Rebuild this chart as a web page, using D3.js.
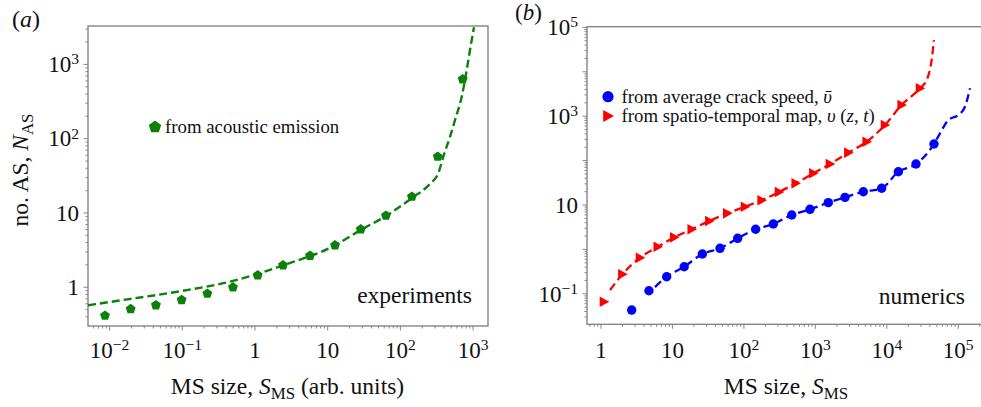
<!DOCTYPE html>
<html><head><meta charset="utf-8">
<script src="https://cdn.jsdelivr.net/npm/d3@7"></script>
<style>
body{margin:0;background:#fff}
svg{display:block}
text{font-family:"Liberation Serif","Times New Roman",serif;fill:#111}
</style>
</head><body>
<svg id="c" width="981" height="407" font-family="Liberation Serif, Times New Roman, serif"></svg>
<script>
// ---------- data : panel (a) experiments ----------
const expSize   = [0.00865,0.0195,0.0434,0.098,0.221,0.498,1.09,2.43,5.71,12.6,28.5,63.2,144,326,719];
const expNAS    = [0.415,0.51,0.573,0.675,0.82,1.0,1.45,1.98,2.66,3.67,6.03,9.2,16.6,57.3,632];
const expFitSize= [0.00505,0.0191,0.099,0.498,2.43,12.6,28.5,63.2,144,255,332,389,481,564,697,817,906,1029];
const expFitNAS = [0.573,0.696,0.892,1.216,1.97,3.67,5.9,9.1,15.9,24.6,34.2,57.3,106,178,367,841,1563,3170];
const aXTicks = [0.01,0.1,1,10,100,1000];
const aXLabels = ["10^−2","10^−1","1","10","10^2","10^3"];
const aYTicks = [1,10,100,1000];
const aYLabels = ["1","10","10^2","10^3"];

// ---------- data : panel (b) numerics ----------
const avgSize = [2.69,4.69,8.3,14.6,26.2,46.3,81.8,146,258,467,841,1517,2600,4690,8470,14500,25600,45700];
const avgNAS  = [0.0431,0.1175,0.243,0.408,0.787,1.06,1.78,2.84,3.74,5.96,8.0,11.3,14.9,19.9,23.8,56.2,83.8,237];
const avgFitSize = [5.7,8.3,14.6,26.2,46.3,81.8,146,258,467,841,1517,2600,4690,8470,14500,25600,45700,55500,72500,100000,124000,146000];
const avgFitNAS  = [0.142,0.243,0.408,0.787,1.06,1.78,2.84,3.74,5.96,8.0,11.3,14.9,19.9,23.8,56.2,83.8,237,412,820,1064,1637,4250];
const mapSize = [1.10,1.99,3.51,6.22,10.6,18.6,32.8,58.5,103.5,177,310,530,935,1600,2890,5230,9420,16100,29100];
const mapNAS  = [0.0664,0.275,0.65,1.15,1.87,2.84,4.37,6.5,9.16,12.8,19.6,30.8,51.8,83.8,151,267,634,1790,4250];
const mapFitSize = [1.34,1.99,3.51,6.22,10.6,18.6,32.8,58.5,103.5,177,310,530,935,1600,2890,5230,9420,16100,29100,36100,42400,45700];
const mapFitNAS  = [0.122,0.275,0.65,1.15,1.87,2.84,4.37,6.5,9.16,12.8,19.6,30.8,51.8,83.8,151,267,634,1790,4250,6530,18400,52000];
const bXTicks = [1,10,100,1000,10000,100000];
const bXLabels = ["1","10","10^2","10^3","10^4","10^5"];
const bYTicks = [0.1,10,1000,100000];
const bYLabels = ["10^−1","10","10^3","10^5"];

const GREEN = "#0b800b", BLUE = "#0000ff", RED = "#ff0000", AXIS = "#858585";
const svg = d3.select("#c");

function richLabel(sel, str){
  const p = str.split("^");
  sel.append("tspan").text(p[0]);
  if (p.length > 1) sel.append("tspan").attr("font-size","0.68em").attr("dy","-0.5em").text(p[1]);
}

function logAxes(x, y, xTicks, xLabels, yTicks, yLabels){
  const [x0,x1] = x.range(), [y0,y1] = y.range();
  const g = svg.append("g");
  g.append("rect").attr("x",x0).attr("y",y1).attr("width",x1-x0).attr("height",y0-y1)
    .attr("fill","none").attr("stroke",AXIS).attr("stroke-width",1.4);
  const minor = (sc) => {
    const d = sc.domain(), out = [];
    for (let e = Math.floor(Math.log10(d[0])); e <= Math.ceil(Math.log10(d[1])); e++)
      for (let k = 1; k <= 9; k++){ const v = k*Math.pow(10,e); if (v>=d[0] && v<=d[1]) out.push({v, major:k===1}); }
    return out;
  };
  minor(x).forEach(t => g.append("line").attr("x1",x(t.v)).attr("x2",x(t.v))
    .attr("y1",y0).attr("y2",y0+(t.major?4.5:2.5)).attr("stroke",AXIS).attr("stroke-width",1));
  minor(y).forEach(t => g.append("line").attr("y1",y(t.v)).attr("y2",y(t.v))
    .attr("x1",x0).attr("x2",x0-(t.major?4.5:2.5)).attr("stroke",AXIS).attr("stroke-width",1));
  xTicks.forEach((v,i)=>{ const t = g.append("text").attr("x",x(v)).attr("y",357.5)
    .attr("text-anchor","middle").attr("font-size",23); richLabel(t,xLabels[i]); });
  yTicks.forEach((v,i)=>{ const t = g.append("text").attr("x",x0-9).attr("y",y(v)+7.8)
    .attr("text-anchor","end").attr("font-size",23); richLabel(t,yLabels[i]); });
}

function pentagon(r){
  const pts = d3.range(5).map(i => { const a = -Math.PI/2 + i*2*Math.PI/5; return [r*Math.cos(a), r*Math.sin(a)]; });
  return "M" + pts.map(p=>p.join(",")).join("L") + "Z";
}
function triRight(s){ return `M${s},0L${-s*0.8},${-s}L${-s*0.8},${s}Z`; }

// ---------- panel (a) ----------
const xa = d3.scaleLog().domain([0.00505,1603]).range([88,488]);
const ya = d3.scaleLog().domain([0.301,3288]).range([326,26]);
logAxes(xa, ya, aXTicks, aXLabels, aYTicks, aYLabels);
svg.append("clipPath").attr("id","ca").append("rect").attr("x",88).attr("y",26).attr("width",400).attr("height",300);
const line = (xs,ys,x,y) => d3.line().curve(d3.curveMonotoneX)(xs.map((v,i)=>[x(v),y(ys[i])]));
svg.append("path").attr("d",line(expFitSize,expFitNAS,xa,ya)).attr("clip-path","url(#ca)")
  .attr("fill","none").attr("stroke",GREEN).attr("stroke-width",2.4).attr("stroke-dasharray","8,4");
svg.append("g").selectAll("path").data(expSize).join("path")
  .attr("transform",(d,i)=>`translate(${xa(d)},${ya(expNAS[i])})`).attr("d",pentagon(5.2)).attr("fill",GREEN);
svg.append("path").attr("transform","translate(155,127)").attr("d",pentagon(6.5)).attr("fill",GREEN);
svg.append("text").attr("x",165).attr("y",133).attr("font-size",18.8).text("from acoustic emission");
svg.append("text").attr("x",472).attr("y",303).attr("text-anchor","end").attr("font-size",23.5).text("experiments");
{
  const t = svg.append("text").attr("x",287.5).attr("y",394).attr("text-anchor","middle").attr("font-size",23.5);
  t.append("tspan").text("MS size, ");
  t.append("tspan").attr("font-style","italic").text("S");
  t.append("tspan").attr("font-size","0.72em").attr("dy","0.3em").text("MS");
  t.append("tspan").attr("dy","-0.22em").text(" (arb. units)");
  const yl = svg.append("text").attr("transform","translate(28,170) rotate(-90)").attr("text-anchor","middle").attr("font-size",23.5);
  yl.append("tspan").text("no. AS, ");
  yl.append("tspan").attr("font-style","italic").text("N");
  yl.append("tspan").attr("font-size","0.72em").attr("dy","0.3em").text("AS");
  const pa = svg.append("text").attr("x",12).attr("y",27).attr("font-size",24);
  pa.append("tspan").text("(");
  pa.append("tspan").attr("font-style","italic").text("a");
  pa.append("tspan").text(")");
}

// ---------- panel (b) ----------
const xb = d3.scaleLog().domain([0.637,278000]).range([587,990]);
const yb = d3.scaleLog().domain([0.0206,103700]).range([324.3,26.7]);
logAxes(xb, yb, bXTicks, bXLabels, bYTicks, bYLabels);
svg.append("clipPath").attr("id","cb").append("rect").attr("x",587).attr("y",26.7).attr("width",403).attr("height",297.6);
svg.append("path").attr("d",line(mapFitSize,mapFitNAS,xb,yb)).attr("clip-path","url(#cb)")
  .attr("fill","none").attr("stroke",RED).attr("stroke-width",2.3).attr("stroke-dasharray","8,4.5");
svg.append("path").attr("d",line(avgFitSize,avgFitNAS,xb,yb)).attr("clip-path","url(#cb)")
  .attr("fill","none").attr("stroke",BLUE).attr("stroke-width",2.3).attr("stroke-dasharray","8,4.5");
svg.append("g").selectAll("path").data(mapSize).join("path")
  .attr("transform",(d,i)=>`translate(${xb(d)},${yb(mapNAS[i])})`).attr("d",triRight(5.3)).attr("fill",RED);
svg.append("g").selectAll("circle").data(avgSize).join("circle")
  .attr("cx",d=>xb(d)).attr("cy",(d,i)=>yb(avgNAS[i])).attr("r",4.7).attr("fill",BLUE);
svg.append("circle").attr("cx",608).attr("cy",96.7).attr("r",5.6).attr("fill",BLUE);
svg.append("path").attr("transform","translate(608,116)").attr("d",triRight(6)).attr("fill",RED);
{
  const l1 = svg.append("text").attr("x",621.5).attr("y",102.7).attr("font-size",18.8);
  l1.append("tspan").text("from average crack speed, ");
  l1.append("tspan").attr("font-style","italic").text("\u03C5\u0304");
  const l2 = svg.append("text").attr("x",621.5).attr("y",121.7).attr("font-size",18.8);
  l2.append("tspan").text("from spatio-temporal map, ");
  l2.append("tspan").attr("font-style","italic").text("\u03C5");
  l2.append("tspan").text(" (");
  l2.append("tspan").attr("font-style","italic").text("z");
  l2.append("tspan").text(", ");
  l2.append("tspan").attr("font-style","italic").text("t");
  l2.append("tspan").text(")");
  svg.append("text").attr("x",965).attr("y",304).attr("text-anchor","end").attr("font-size",23.5).text("numerics");
  const t = svg.append("text").attr("x",786).attr("y",394).attr("text-anchor","middle").attr("font-size",23.5);
  t.append("tspan").text("MS size, ");
  t.append("tspan").attr("font-style","italic").text("S");
  t.append("tspan").attr("font-size","0.72em").attr("dy","0.3em").text("MS");
  const pb = svg.append("text").attr("x",515).attr("y",20).attr("font-size",23);
  pb.append("tspan").text("(");
  pb.append("tspan").attr("font-style","italic").text("b");
  pb.append("tspan").text(")");
}
</script>
</body></html>
